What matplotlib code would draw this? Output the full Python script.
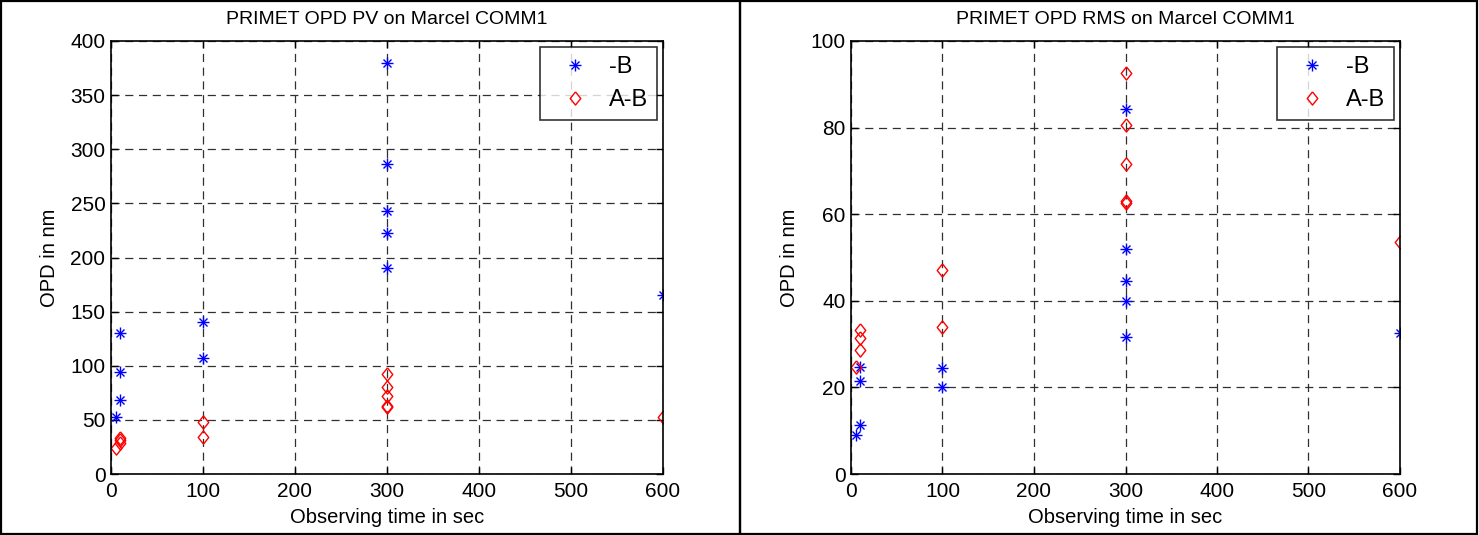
import matplotlib
matplotlib.use("Agg")
import matplotlib.pyplot as plt
from matplotlib.patches import Rectangle
from matplotlib.legend_handler import HandlerTuple

plt.rcParams['font.family'] = ['Liberation Sans', 'DejaVu Sans']

# ---- data ----
time_b = [5, 10, 10, 10, 100, 100, 300, 300, 300, 300, 300, 600]
time_ab = [5, 10, 10, 10, 100, 100, 300, 300, 300, 300, 300, 600]

pv_b = [53, 130, 94, 68, 140, 107, 380, 286, 243, 223, 190, 165]
pv_ab = [24, 29, 31, 33, 48, 34, 92, 80, 72, 63, 62, 53]

rms_b = [9, 24.8, 21.5, 11.3, 24.5, 20, 84.3, 51.9, 44.6, 40, 31.6, 32.5]
rms_ab = [24.8, 28.6, 31.3, 33.3, 47, 34, 92.5, 80.6, 71.5, 62.5, 63, 53.5]

xticks = [0, 100, 200, 300, 400, 500, 600]
pv_yticks = [0, 50, 100, 150, 200, 250, 300, 350, 400]
rms_yticks = [0, 20, 40, 60, 80, 100]

titles = ["PRIMET OPD PV on Marcel COMM1", "PRIMET OPD RMS on Marcel COMM1"]
legend_labels = ["-B", "A-B"]

W, H = 1479, 535
fig = plt.figure(figsize=(W / 100, H / 100), dpi=100)

diamond = [(0, 1), (0.8, 0), (0, -1), (-0.8, 0), (0, 1)]
TICK_FS = 15
LAB_FS = 14.5
TITLE_FS = 14
LEG_FS = 17

def make_ax(rect, yb, yab, yticks, ylim, title):
    ax = fig.add_axes(rect)
    p1, = ax.plot(time_b, yb, linestyle='none', marker='+', markersize=8,
                  color='#0000ff', markeredgewidth=1.0)
    p2, = ax.plot(time_b, yb, linestyle='none', marker='x', markersize=5.5,
                  color='#0000ff', markeredgewidth=1.0)
    p3, = ax.plot(time_ab, yab, linestyle='none', marker=diamond, markersize=9.5,
                  markerfacecolor='none', markeredgecolor='#ff0000',
                  markeredgewidth=1.0)
    ax.set_xlim(0, 600)
    ax.set_ylim(*ylim)
    ax.set_xticks(xticks)
    ax.set_yticks(yticks)
    ax.tick_params(direction='in', length=5, top=True, right=True,
                   labelsize=TICK_FS, width=1)
    ax.tick_params(axis='x', pad=6)
    ax.tick_params(axis='y', pad=4)
    ax.grid(True, color='#303030', linestyle=(0, (6.5, 4.5)), linewidth=0.9)
    ax.set_axisbelow(True)
    for s in ax.spines.values():
        s.set_linewidth(1.2)
    ax.set_title(title, fontsize=TITLE_FS, pad=12)
    ax.set_xlabel("Observing time in sec", fontsize=LAB_FS, labelpad=5)
    ax.set_ylabel("OPD in nm", fontsize=LAB_FS, labelpad=8)
    leg = ax.legend([(p1, p2), p3], legend_labels, loc='upper right',
                    handler_map={tuple: HandlerTuple(ndivide=1)},
                    fontsize=LEG_FS, frameon=True, fancybox=False,
                    edgecolor='black', borderpad=0.4, handlelength=2.2,
                    handletextpad=0.3, labelspacing=0.45, borderaxespad=0.25)
    leg.get_frame().set_linewidth(1.2)
    return ax

bottom = 1 - 474 / H
top = 1 - 41 / H
make_ax([111 / W, bottom, 552 / W, top - bottom], pv_b, pv_ab, pv_yticks, (0, 400), titles[0])
make_ax([851 / W, bottom, 549 / W, top - bottom], rms_b, rms_ab, rms_yticks, (0, 100), titles[1])

# outer frame cells
fig.add_artist(Rectangle((1 / W, 1 / H), 739 / W, 533 / H, transform=fig.transFigure,
                         fill=False, edgecolor='black', linewidth=1.6))
fig.add_artist(Rectangle((740 / W, 1 / H), 737 / W, 533 / H, transform=fig.transFigure,
                         fill=False, edgecolor='black', linewidth=1.6))

fig.savefig("out.png", dpi=100)
